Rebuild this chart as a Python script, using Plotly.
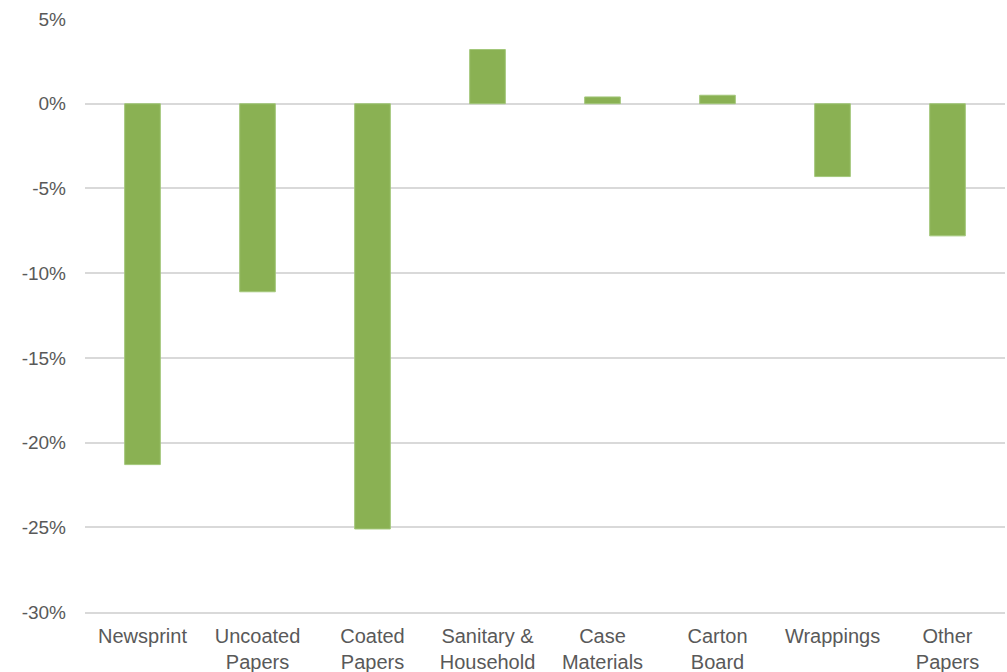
import plotly.graph_objects as go

categories = ["Newsprint", "Uncoated<br>Papers", "Coated<br>Papers", "Sanitary &<br>Household",
              "Case<br>Materials", "Carton<br>Board", "Wrappings", "Other<br>Papers"]
values = [-21.3, -11.1, -25.1, 3.2, 0.4, 0.5, -4.3, -7.8]
y_ticks = [5, 0, -5, -10, -15, -20, -25, -30]
y_tick_labels = ["5%", "0%", "-5%", "-10%", "-15%", "-20%", "-25%", "-30%"]

fig = go.Figure(go.Bar(
    x=categories, y=values,
    marker=dict(color="#8AB153", line=dict(color="#A3C77A", width=1)),
    width=0.31,
))
fig.update_layout(
    width=1007, height=672,
    margin=dict(l=85, r=2, t=19, b=60),
    plot_bgcolor="white", paper_bgcolor="white",
    font=dict(family="Liberation Sans, Arial, sans-serif", size=18, color="#595959"),
    showlegend=False,
)
fig.update_yaxes(range=[-30, 5], tickvals=y_ticks, ticktext=y_tick_labels,
                 tickfont=dict(size=19), automargin=False,
                 showgrid=True, gridcolor="#D9D9D9", gridwidth=1.5,
                 zeroline=True, zerolinecolor="#D9D9D9", zerolinewidth=1.5,
                 showline=False, ticks="", ticklabelstandoff=18)
fig.update_xaxes(showgrid=False, showline=True, linecolor="#D9D9D9", linewidth=1.5,
                 automargin=False,
                 ticks="", tickfont=dict(size=20), ticklabelstandoff=5)
fig.write_html("out.html")
